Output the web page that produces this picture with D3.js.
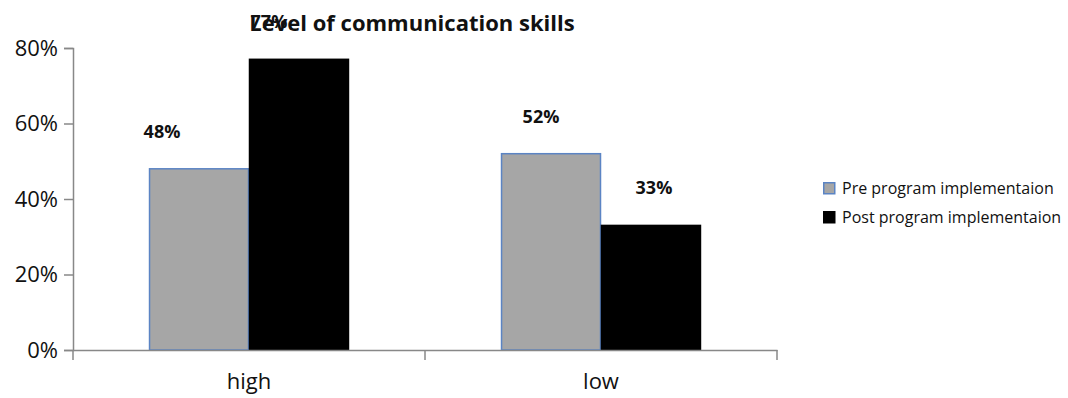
<!DOCTYPE html>
<html lang="en">
<head>
    <meta charset="UTF-8">
    <title>Level of communication skills</title>
    <script src="https://d3js.org/d3.v7.min.js"></script>
    <style>
        body { margin: 0; background: #fff; }
        text { font-family: "Open Sans", sans-serif; }
    </style>
</head>
<body>
    <svg width="1068" height="398"></svg>

    <script>
        // Chart data
        const categories = ["high", "low"];
        const seriesNames = ["Pre program implementaion", "Post program implementaion"];
        const preValues = [0.48, 0.52];
        const postValues = [0.77, 0.33];
        const yTicks = [0, 0.2, 0.4, 0.6, 0.8];

        // label nudges (the original export places labels off-centre)
        const labelDx = [[-37, -10], [-30, 3]];

        const series = [
            { name: seriesNames[0], values: preValues, fill: "#a6a6a6", stroke: "#5b84c4" },
            { name: seriesNames[1], values: postValues, fill: "#000000", stroke: "#000000" }
        ];

        const svg = d3.select("svg");
        const plotLeft = 73, plotRight = 777, plotTop = 48, plotBottom = 350;

        // Scales
        const x0 = d3.scaleBand().domain(categories).range([plotLeft, plotRight]).padding(0);
        const bw = x0.bandwidth();
        const x1 = d3.scaleBand().domain(seriesNames).range([bw * 0.216, bw * 0.784]).padding(0);
        const y = d3.scaleLinear().domain([0, 0.8]).range([plotBottom, plotTop]);

        const axisColor = "#888";

        // Y axis
        const yAxis = svg.append("g")
            .attr("transform", `translate(${plotLeft},0)`)
            .call(d3.axisLeft(y).tickValues(yTicks).tickFormat(d3.format(".0%")).tickSize(9).tickPadding(6));
        yAxis.select(".domain").attr("stroke", axisColor).attr("stroke-width", 1.5);
        yAxis.selectAll(".tick line").attr("stroke", axisColor).attr("stroke-width", 1.5);
        yAxis.selectAll("text").style("font-size", "22px").attr("fill", "#111").attr("font-family", "Open Sans");

        // Bars
        const groups = svg.selectAll("g.cat")
            .data(categories)
            .enter()
            .append("g")
            .attr("class", "cat")
            .attr("transform", d => `translate(${x0(d)},0)`);

        series.forEach((s, si) => {
            groups.append("rect")
                .attr("x", x1(s.name) + 0.5)
                .attr("y", (d, i) => y(s.values[i]))
                .attr("width", x1.bandwidth() - 1)
                .attr("height", (d, i) => plotBottom - y(s.values[i]))
                .attr("fill", s.fill)
                .attr("stroke", s.stroke)
                .attr("stroke-width", 1.5);
        });

        // X axis
        const xAxis = svg.append("g")
            .attr("transform", `translate(0,${plotBottom})`)
            .call(d3.axisBottom(x0).tickSize(0).tickPadding(23));
        xAxis.select(".domain").attr("stroke", axisColor).attr("stroke-width", 1.5);
        xAxis.selectAll("text").style("font-size", "22px").attr("fill", "#111").attr("font-family", "Open Sans");

        // boundary ticks between categories
        const bounds = categories.map(c => x0(c)).concat([x0(categories[categories.length - 1]) + bw]);
        svg.selectAll("line.xb")
            .data(bounds)
            .enter()
            .append("line")
            .attr("class", "xb")
            .attr("x1", d => d).attr("x2", d => d)
            .attr("y1", plotBottom).attr("y2", plotBottom + 10)
            .attr("stroke", axisColor)
            .attr("stroke-width", 1.5);

        // Data labels
        series.forEach((s, si) => {
            groups.append("text")
                .attr("x", (d, i) => x1(s.name) + x1.bandwidth() / 2 + labelDx[si][i])
                .attr("y", (d, i) => y(s.values[i]) - 31)
                .attr("text-anchor", "middle")
                .style("font-size", "18px")
                .style("font-weight", "bold")
                .attr("fill", "#111")
                .text((d, i) => d3.format(".0%")(s.values[i]));
        });

        // Title
        svg.append("text")
            .attr("x", 412)
            .attr("y", 31)
            .attr("text-anchor", "middle")
            .style("font-size", "22px")
            .style("font-weight", "bold")
            .attr("fill", "#111")
            .text("Level of communication skills");

        // Legend
        const legend = svg.append("g").attr("transform", "translate(823,182)");
        series.forEach((s, i) => {
            const row = legend.append("g").attr("transform", `translate(0,${i * 29})`);
            row.append("rect")
                .attr("x", 0.75).attr("y", 0.75)
                .attr("width", 11).attr("height", 11)
                .attr("fill", s.fill)
                .attr("stroke", s.stroke)
                .attr("stroke-width", 1.5);
            row.append("text")
                .attr("x", 19)
                .attr("y", 12)
                .style("font-size", "16px")
                .attr("fill", "#111")
                .text(s.name);
        });
    </script>
</body>
</html>
